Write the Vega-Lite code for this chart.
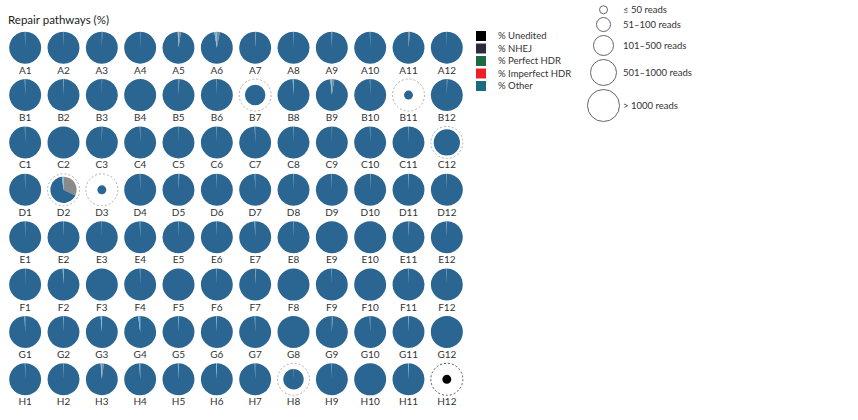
{
  "$schema": "https://vega.github.io/schema/vega-lite/v6.json",
  "width": 460,
  "height": 379,
  "autosize": {"type": "none"},
  "padding": {"left": 6, "top": 24, "right": 392, "bottom": 17},
  "background": "white",
  "config": {"view": {"stroke": null}, "font": "Lato"},
  "title": {"text": "Repair pathways (%)", "anchor": "start", "frame": "group", "fontSize": 11.5, "font": "Lato", "fontWeight": "normal", "color": "#222222", "offset": 2, "dy": 23, "dx": 2},
  "datasets": {
    "wells": [
      {"w":"A1","r":"A","c":1,"t":5,"nhej":0,"other":99.7,"perfect_hdr":0.3,"unedited":0},
      {"w":"A2","r":"A","c":2,"t":5,"nhej":0.4,"other":99.6,"perfect_hdr":0,"unedited":0},
      {"w":"A3","r":"A","c":3,"t":5,"nhej":0.5,"other":99.5,"perfect_hdr":0,"unedited":0},
      {"w":"A4","r":"A","c":4,"t":5,"nhej":0,"other":99.8,"perfect_hdr":0.2,"unedited":0},
      {"w":"A5","r":"A","c":5,"t":5,"nhej":2.5,"other":96.7,"perfect_hdr":0.8,"unedited":0},
      {"w":"A6","r":"A","c":6,"t":5,"nhej":3,"other":94.5,"perfect_hdr":2.5,"unedited":0},
      {"w":"A7","r":"A","c":7,"t":5,"nhej":1,"other":99,"perfect_hdr":0,"unedited":0},
      {"w":"A8","r":"A","c":8,"t":5,"nhej":0,"other":99.7,"perfect_hdr":0.3,"unedited":0},
      {"w":"A9","r":"A","c":9,"t":5,"nhej":0.4,"other":99.4,"perfect_hdr":0.2,"unedited":0},
      {"w":"A10","r":"A","c":10,"t":5,"nhej":0,"other":99.7,"perfect_hdr":0.3,"unedited":0},
      {"w":"A11","r":"A","c":11,"t":5,"nhej":1.5,"other":98.5,"perfect_hdr":0,"unedited":0},
      {"w":"A12","r":"A","c":12,"t":5,"nhej":0,"other":99.8,"perfect_hdr":0.2,"unedited":0},
      {"w":"B1","r":"B","c":1,"t":5,"nhej":0,"other":99.6,"perfect_hdr":0.4,"unedited":0},
      {"w":"B2","r":"B","c":2,"t":5,"nhej":0,"other":99.6,"perfect_hdr":0.4,"unedited":0},
      {"w":"B3","r":"B","c":3,"t":5,"nhej":0.3,"other":99.7,"perfect_hdr":0,"unedited":0},
      {"w":"B4","r":"B","c":4,"t":5,"nhej":0,"other":100,"perfect_hdr":0,"unedited":0},
      {"w":"B5","r":"B","c":5,"t":5,"nhej":0.8,"other":99.2,"perfect_hdr":0,"unedited":0},
      {"w":"B6","r":"B","c":6,"t":5,"nhej":0,"other":99.7,"perfect_hdr":0.3,"unedited":0},
      {"w":"B7","r":"B","c":7,"t":3,"nhej":0,"other":100,"perfect_hdr":0,"unedited":0},
      {"w":"B8","r":"B","c":8,"t":5,"nhej":0,"other":99.2,"perfect_hdr":0.8,"unedited":0},
      {"w":"B9","r":"B","c":9,"t":5,"nhej":2.5,"other":96,"perfect_hdr":1.5,"unedited":0},
      {"w":"B10","r":"B","c":10,"t":5,"nhej":0,"other":99.7,"perfect_hdr":0.3,"unedited":0},
      {"w":"B11","r":"B","c":11,"t":1,"nhej":0,"other":100,"perfect_hdr":0,"unedited":0},
      {"w":"B12","r":"B","c":12,"t":5,"nhej":0.5,"other":99.5,"perfect_hdr":0,"unedited":0},
      {"w":"C1","r":"C","c":1,"t":5,"nhej":0,"other":99.7,"perfect_hdr":0.3,"unedited":0},
      {"w":"C2","r":"C","c":2,"t":5,"nhej":0,"other":100,"perfect_hdr":0,"unedited":0},
      {"w":"C3","r":"C","c":3,"t":5,"nhej":0.4,"other":99.6,"perfect_hdr":0,"unedited":0},
      {"w":"C4","r":"C","c":4,"t":5,"nhej":0,"other":99.7,"perfect_hdr":0.3,"unedited":0},
      {"w":"C5","r":"C","c":5,"t":5,"nhej":0,"other":99.8,"perfect_hdr":0.2,"unedited":0},
      {"w":"C6","r":"C","c":6,"t":5,"nhej":0,"other":99.7,"perfect_hdr":0.3,"unedited":0},
      {"w":"C7","r":"C","c":7,"t":5,"nhej":0,"other":99.6,"perfect_hdr":0.4,"unedited":0},
      {"w":"C8","r":"C","c":8,"t":5,"nhej":0,"other":99.7,"perfect_hdr":0.3,"unedited":0},
      {"w":"C9","r":"C","c":9,"t":5,"nhej":0.3,"other":99.7,"perfect_hdr":0,"unedited":0},
      {"w":"C10","r":"C","c":10,"t":5,"nhej":0,"other":99.7,"perfect_hdr":0.3,"unedited":0},
      {"w":"C11","r":"C","c":11,"t":5,"nhej":0,"other":99.7,"perfect_hdr":0.3,"unedited":0},
      {"w":"C12","r":"C","c":12,"t":4,"nhej":0,"other":100,"perfect_hdr":0,"unedited":0},
      {"w":"D1","r":"D","c":1,"t":5,"nhej":0,"other":99.7,"perfect_hdr":0.3,"unedited":0},
      {"w":"D2","r":"D","c":2,"t":4,"nhej":32,"other":66,"perfect_hdr":2,"unedited":0},
      {"w":"D3","r":"D","c":3,"t":1,"nhej":0,"other":100,"perfect_hdr":0,"unedited":0},
      {"w":"D4","r":"D","c":4,"t":5,"nhej":0,"other":99.7,"perfect_hdr":0.3,"unedited":0},
      {"w":"D5","r":"D","c":5,"t":5,"nhej":0.8,"other":99.2,"perfect_hdr":0,"unedited":0},
      {"w":"D6","r":"D","c":6,"t":5,"nhej":0,"other":99.7,"perfect_hdr":0.3,"unedited":0},
      {"w":"D7","r":"D","c":7,"t":5,"nhej":0,"other":99.6,"perfect_hdr":0.4,"unedited":0},
      {"w":"D8","r":"D","c":8,"t":5,"nhej":0,"other":99.7,"perfect_hdr":0.3,"unedited":0},
      {"w":"D9","r":"D","c":9,"t":5,"nhej":0,"other":99.7,"perfect_hdr":0.3,"unedited":0},
      {"w":"D10","r":"D","c":10,"t":5,"nhej":0.5,"other":99.5,"perfect_hdr":0,"unedited":0},
      {"w":"D11","r":"D","c":11,"t":5,"nhej":0,"other":99.6,"perfect_hdr":0.4,"unedited":0},
      {"w":"D12","r":"D","c":12,"t":5,"nhej":0,"other":99.7,"perfect_hdr":0.3,"unedited":0},
      {"w":"E1","r":"E","c":1,"t":5,"nhej":0,"other":99.7,"perfect_hdr":0.3,"unedited":0},
      {"w":"E2","r":"E","c":2,"t":5,"nhej":0,"other":99.7,"perfect_hdr":0.3,"unedited":0},
      {"w":"E3","r":"E","c":3,"t":5,"nhej":0,"other":99.8,"perfect_hdr":0.2,"unedited":0},
      {"w":"E4","r":"E","c":4,"t":5,"nhej":0,"other":99.6,"perfect_hdr":0.4,"unedited":0},
      {"w":"E5","r":"E","c":5,"t":5,"nhej":0,"other":99.7,"perfect_hdr":0.3,"unedited":0},
      {"w":"E6","r":"E","c":6,"t":5,"nhej":0,"other":99.7,"perfect_hdr":0.3,"unedited":0},
      {"w":"E7","r":"E","c":7,"t":5,"nhej":0,"other":99.5,"perfect_hdr":0.5,"unedited":0},
      {"w":"E8","r":"E","c":8,"t":5,"nhej":0,"other":99.7,"perfect_hdr":0.3,"unedited":0},
      {"w":"E9","r":"E","c":9,"t":5,"nhej":0,"other":100,"perfect_hdr":0,"unedited":0},
      {"w":"E10","r":"E","c":10,"t":5,"nhej":0,"other":100,"perfect_hdr":0,"unedited":0},
      {"w":"E11","r":"E","c":11,"t":5,"nhej":0.8,"other":99.2,"perfect_hdr":0,"unedited":0},
      {"w":"E12","r":"E","c":12,"t":5,"nhej":0,"other":99.6,"perfect_hdr":0.4,"unedited":0},
      {"w":"F1","r":"F","c":1,"t":5,"nhej":0,"other":99.8,"perfect_hdr":0.2,"unedited":0},
      {"w":"F2","r":"F","c":2,"t":5,"nhej":0,"other":99.2,"perfect_hdr":0.8,"unedited":0},
      {"w":"F3","r":"F","c":3,"t":5,"nhej":0,"other":100,"perfect_hdr":0,"unedited":0},
      {"w":"F4","r":"F","c":4,"t":5,"nhej":0,"other":99.7,"perfect_hdr":0.3,"unedited":0},
      {"w":"F5","r":"F","c":5,"t":5,"nhej":0,"other":100,"perfect_hdr":0,"unedited":0},
      {"w":"F6","r":"F","c":6,"t":5,"nhej":0,"other":99.7,"perfect_hdr":0.3,"unedited":0},
      {"w":"F7","r":"F","c":7,"t":5,"nhej":1,"other":99,"perfect_hdr":0,"unedited":0},
      {"w":"F8","r":"F","c":8,"t":5,"nhej":0,"other":100,"perfect_hdr":0,"unedited":0},
      {"w":"F9","r":"F","c":9,"t":5,"nhej":0,"other":99.7,"perfect_hdr":0.3,"unedited":0},
      {"w":"F10","r":"F","c":10,"t":5,"nhej":0,"other":100,"perfect_hdr":0,"unedited":0},
      {"w":"F11","r":"F","c":11,"t":5,"nhej":0,"other":99.7,"perfect_hdr":0.3,"unedited":0},
      {"w":"F12","r":"F","c":12,"t":5,"nhej":0,"other":99.7,"perfect_hdr":0.3,"unedited":0},
      {"w":"G1","r":"G","c":1,"t":5,"nhej":0,"other":99.4,"perfect_hdr":0.6,"unedited":0},
      {"w":"G2","r":"G","c":2,"t":5,"nhej":0,"other":99.6,"perfect_hdr":0.4,"unedited":0},
      {"w":"G3","r":"G","c":3,"t":5,"nhej":0.3,"other":98.5,"perfect_hdr":1.2,"unedited":0},
      {"w":"G4","r":"G","c":4,"t":5,"nhej":0,"other":98,"perfect_hdr":2,"unedited":0},
      {"w":"G5","r":"G","c":5,"t":5,"nhej":0,"other":99.5,"perfect_hdr":0.5,"unedited":0},
      {"w":"G6","r":"G","c":6,"t":5,"nhej":0,"other":99.4,"perfect_hdr":0.6,"unedited":0},
      {"w":"G7","r":"G","c":7,"t":5,"nhej":0,"other":99.6,"perfect_hdr":0.4,"unedited":0},
      {"w":"G8","r":"G","c":8,"t":5,"nhej":0,"other":100,"perfect_hdr":0,"unedited":0},
      {"w":"G9","r":"G","c":9,"t":5,"nhej":1,"other":99,"perfect_hdr":0,"unedited":0},
      {"w":"G10","r":"G","c":10,"t":5,"nhej":0,"other":99.6,"perfect_hdr":0.4,"unedited":0},
      {"w":"G11","r":"G","c":11,"t":5,"nhej":0,"other":99.5,"perfect_hdr":0.5,"unedited":0},
      {"w":"G12","r":"G","c":12,"t":5,"nhej":0,"other":100,"perfect_hdr":0,"unedited":0},
      {"w":"H1","r":"H","c":1,"t":5,"nhej":0,"other":99.7,"perfect_hdr":0.3,"unedited":0},
      {"w":"H2","r":"H","c":2,"t":5,"nhej":0,"other":99.7,"perfect_hdr":0.3,"unedited":0},
      {"w":"H3","r":"H","c":3,"t":5,"nhej":2,"other":96.8,"perfect_hdr":1.2,"unedited":0},
      {"w":"H4","r":"H","c":4,"t":5,"nhej":0,"other":99.2,"perfect_hdr":0.8,"unedited":0},
      {"w":"H5","r":"H","c":5,"t":5,"nhej":0,"other":99.4,"perfect_hdr":0.6,"unedited":0},
      {"w":"H6","r":"H","c":6,"t":5,"nhej":0,"other":99.2,"perfect_hdr":0.8,"unedited":0},
      {"w":"H7","r":"H","c":7,"t":5,"nhej":0,"other":99.6,"perfect_hdr":0.4,"unedited":0},
      {"w":"H8","r":"H","c":8,"t":3,"nhej":0.5,"other":99.5,"perfect_hdr":0,"unedited":0},
      {"w":"H9","r":"H","c":9,"t":5,"nhej":0,"other":99.7,"perfect_hdr":0.3,"unedited":0},
      {"w":"H10","r":"H","c":10,"t":5,"nhej":0,"other":100,"perfect_hdr":0,"unedited":0},
      {"w":"H11","r":"H","c":11,"t":5,"nhej":0,"other":99.4,"perfect_hdr":0.6,"unedited":0},
      {"w":"H12","r":"H","c":12,"t":1,"nhej":0,"other":0,"perfect_hdr":0,"unedited":100}
    ],
    "pathways": [
      {"k":"% Unedited"},{"k":"% NHEJ"},{"k":"% Perfect HDR"},{"k":"% Imperfect HDR"},{"k":"% Other"}
    ],
    "reads": [
      {"n":"≤ 50 reads"},{"n":"51–100 reads"},{"n":"101–500 reads"},{"n":"501–1000 reads"},{"n":"> 1000 reads"}
    ]
  },
  "encoding": {
    "x": {"field": "c", "type": "quantitative", "stack": null, "scale": {"domain": [0.5, 12.5], "nice": false, "zero": false}, "axis": null},
    "y": {"field": "r", "type": "ordinal", "scale": {"type": "point", "padding": 0.5}, "axis": null}
  },
  "layer": [
    {
      "data": {"name": "wells"},
      "transform": [{"filter": "datum.t < 5"}],
      "mark": {"type": "point", "shape": "circle", "filled": false, "size": 1024, "strokeWidth": 1, "strokeDash": [2, 2], "opacity": 1},
      "encoding": {
        "stroke": {"condition": {"test": "datum.unedited == 100", "value": "#555555"}, "value": "#b0b0b0"}
      }
    },
    {
      "data": {"name": "wells"},
      "transform": [
        {"fold": ["nhej", "other", "perfect_hdr", "unedited"], "as": ["slice", "pct"]},
        {"filter": "datum.pct > 0"},
        {"stack": "pct", "groupby": ["w"], "sort": [{"field": "slice", "order": "ascending"}], "as": ["p0", "p1"]}
      ],
      "mark": {"type": "arc", "stroke": null},
      "encoding": {
        "theta": {"field": "p0", "type": "quantitative", "stack": null, "scale": {"domain": [0, 100], "range": [0, 6.283185307]}},
        "theta2": {"field": "p1"},
        "radius": {"field": "t", "type": "quantitative", "stack": null, "scale": {"type": "linear", "domain": [1, 5], "range": [4.5, 16], "zero": false}},
        "radius2": {"value": 0},
        "color": {"field": "slice", "type": "nominal", "scale": {"domain": ["nhej", "other", "perfect_hdr", "unedited"], "range": ["#8a8a8a", "#2b6591", "#62b8dc", "#000000"]}, "legend": null}
      }
    },
    {
      "data": {"name": "wells"},
      "mark": {"type": "text", "dy": 23, "fontSize": 10, "font": "Lato", "color": "#333333", "baseline": "middle"},
      "encoding": {"text": {"field": "w"}}
    },
    {
      "data": {"name": "pathways"},
      "mark": {"type": "square", "opacity": 0, "size": 0},
      "encoding": {
        "x": {"value": 0},
        "y": {"value": 0},
        "fill": {"field": "k", "type": "nominal", "scale": {"domain": ["% Unedited", "% NHEJ", "% Perfect HDR", "% Imperfect HDR", "% Other"], "range": ["#000000", "#2c2a3f", "#1d6b45", "#ee2027", "#1b6a80"]},
          "legend": {"title": null, "orient": "none", "legendX": 470, "legendY": 7, "symbolType": "square", "symbolSize": 100, "symbolOpacity": 1, "symbolStrokeWidth": 0, "labelFont": "Lato", "labelFontSize": 9.5, "labelColor": "#333333", "labelOffset": 12, "rowPadding": 2.5, "padding": 0}}
      }
    },
    {
      "data": {"name": "reads"},
      "mark": {"type": "point", "shape": "circle", "filled": false, "opacity": 0, "color": "#555555"},
      "encoding": {
        "x": {"value": 0},
        "y": {"value": 0},
        "size": {"field": "n", "type": "ordinal", "scale": {"type": "ordinal", "domain": ["≤ 50 reads", "51–100 reads", "101–500 reads", "501–1000 reads", "> 1000 reads"], "range": [64, 196, 400, 676, 1024]},
          "legend": {"title": null, "orient": "none", "legendX": 581, "legendY": -19, "symbolType": "circle", "symbolOpacity": 1, "symbolStrokeColor": "#555555", "symbolFillColor": "transparent", "symbolStrokeWidth": 0.9, "labelFont": "Lato", "labelFontSize": 9.5, "labelColor": "#333333", "labelOffset": 3, "rowPadding": -1, "padding": 0}}
      }
    }
  ]
}
